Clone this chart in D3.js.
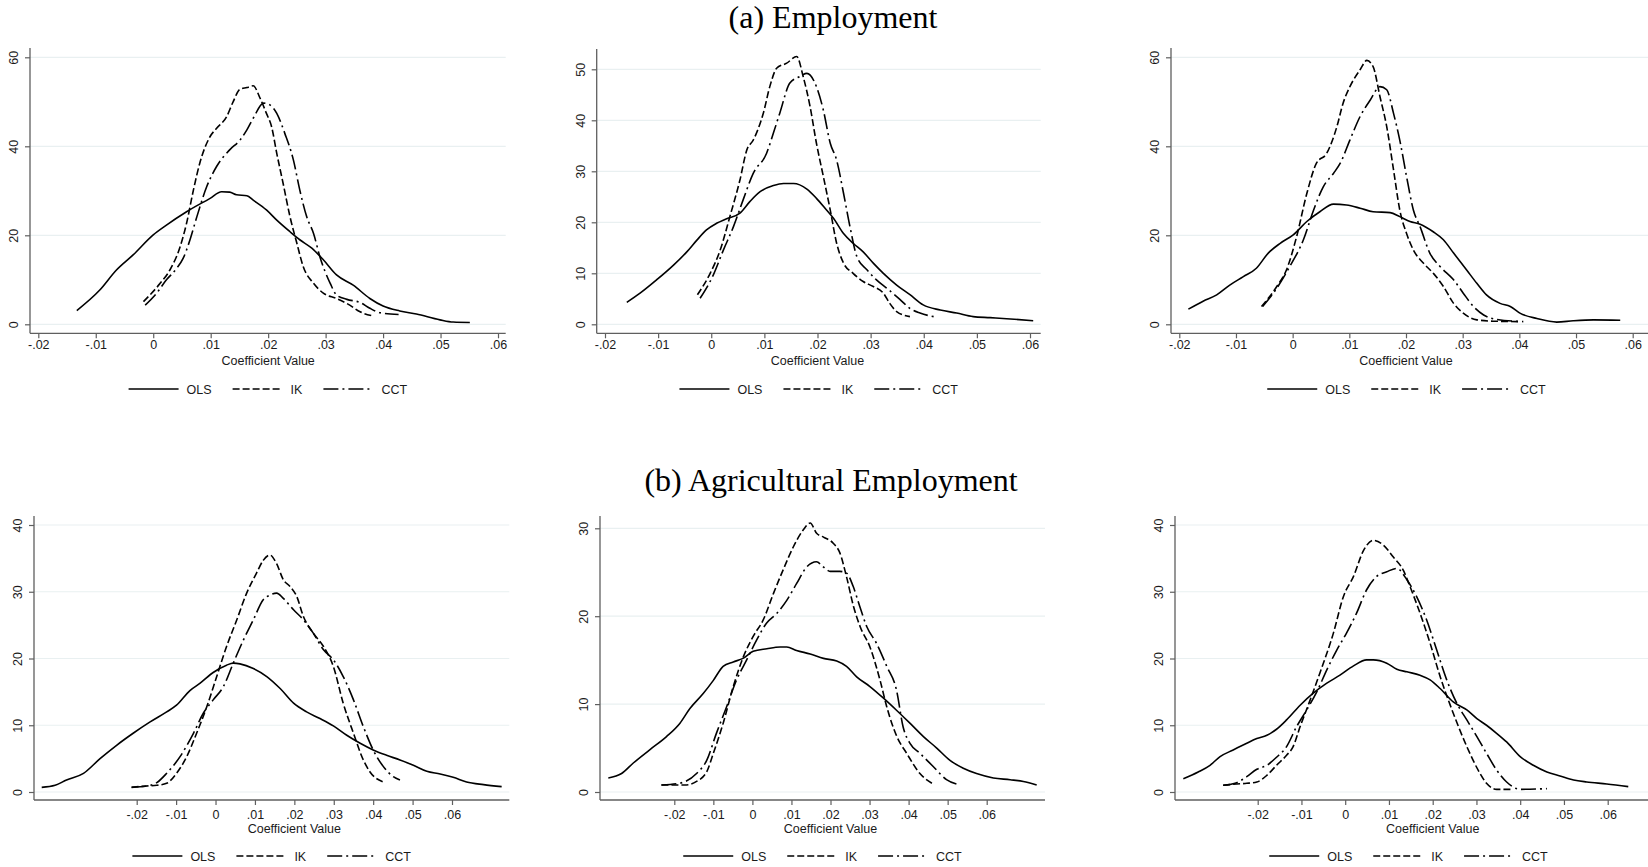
<!DOCTYPE html>
<html>
<head>
<meta charset="utf-8">
<script src="https://cdn.jsdelivr.net/npm/d3@7"></script>
<style>
  html, body { margin: 0; padding: 0; background: #fff; }
  svg { display: block; }
</style>
</head>
<body>
<svg id="fig" width="1648" height="867"></svg>
<script>
// ---- Kernel density estimates of the coefficient, [value, density] ----
// (a) Employment, three specifications
const emp1OLS = [[-0.0133,3.1],[-0.0093,7.7],[-0.0064,12.2],[-0.0035,15.6],[0.0,20.1],[0.0023,22.3],[0.0058,25.3],[0.0099,28.3],[0.0119,29.8],[0.0133,29.7],[0.0145,29.1],[0.0163,28.9],[0.0174,27.9],[0.0197,25.7],[0.0215,23.4],[0.0238,20.8],[0.0255,19.0],[0.0276,17.1],[0.0296,14.5],[0.0319,11.1],[0.0348,8.8],[0.0377,5.8],[0.0400,4.1],[0.0429,3.0],[0.0458,2.3],[0.0499,1.0],[0.0522,0.5],[0.0551,0.4]];
const emp1IK = [[-0.0017,5.1],[0.0012,9.2],[0.0029,12.2],[0.0047,17.5],[0.0058,22.7],[0.0070,30.2],[0.0081,36.2],[0.0099,42.2],[0.0110,44.0],[0.0128,46.7],[0.0139,50.0],[0.0151,52.8],[0.0163,53.2],[0.0174,53.6],[0.0186,50.8],[0.0197,47.4],[0.0206,44.4],[0.0215,38.4],[0.0226,31.7],[0.0238,24.2],[0.0250,18.2],[0.0261,13.0],[0.0279,9.2],[0.0296,7.0],[0.0319,5.8],[0.0342,4.3],[0.0360,2.8],[0.0383,1.9]];
const emp1CCT = [[-0.0014,4.3],[0.0006,7.0],[0.0023,10.0],[0.0041,12.6],[0.0052,14.8],[0.0064,19.0],[0.0076,24.2],[0.0093,30.9],[0.0110,35.4],[0.0133,39.2],[0.0151,41.4],[0.0163,43.7],[0.0174,46.3],[0.0192,49.7],[0.0203,49.3],[0.0215,47.4],[0.0229,42.9],[0.0244,36.9],[0.0255,30.2],[0.0267,24.2],[0.0279,20.4],[0.0290,15.2],[0.0308,9.2],[0.0319,6.6],[0.0337,5.6],[0.0360,4.9],[0.0377,3.6],[0.0395,2.6],[0.0427,2.2]];

const emp2OLS = [[-0.0159,4.3],[-0.0134,6.1],[-0.0103,8.7],[-0.0071,11.6],[-0.0046,14.2],[-0.0027,16.5],[-0.0009,18.5],[0.0010,19.8],[0.0029,20.7],[0.0054,21.8],[0.0073,24.1],[0.0092,26.0],[0.0117,27.2],[0.0136,27.6],[0.0155,27.6],[0.0180,26.5],[0.0198,24.7],[0.0217,22.4],[0.0230,20.8],[0.0249,17.8],[0.0267,15.9],[0.0286,14.2],[0.0305,12.0],[0.0324,10.0],[0.0349,7.7],[0.0374,5.8],[0.0399,3.8],[0.0431,2.8],[0.0462,2.2],[0.0493,1.5],[0.0525,1.3],[0.0556,1.1],[0.0606,0.7]];
const emp2IK = [[-0.0026,5.8],[-0.0002,10.0],[0.0017,14.6],[0.0035,21.1],[0.0054,28.3],[0.0067,34.2],[0.0079,36.1],[0.0098,41.4],[0.0111,46.9],[0.0123,50.2],[0.0142,51.2],[0.0161,52.5],[0.0173,48.6],[0.0186,42.7],[0.0198,35.5],[0.0211,29.0],[0.0224,22.4],[0.0236,15.9],[0.0249,12.0],[0.0267,10.0],[0.0286,8.4],[0.0305,7.4],[0.0324,6.1],[0.0336,4.1],[0.0349,2.5],[0.0374,1.5]];
const emp2CCT = [[-0.0021,5.1],[0.0004,9.7],[0.0023,14.6],[0.0042,19.2],[0.0060,24.4],[0.0079,29.6],[0.0104,33.5],[0.0117,37.5],[0.0129,41.4],[0.0148,47.3],[0.0167,48.6],[0.0180,49.2],[0.0198,46.6],[0.0211,42.0],[0.0224,35.5],[0.0236,32.2],[0.0249,25.7],[0.0261,19.2],[0.0274,13.3],[0.0293,10.7],[0.0311,8.7],[0.0330,7.1],[0.0355,4.9],[0.0374,3.1],[0.0393,2.2],[0.0424,1.4]];

const emp3OLS = [[-0.0184,3.4],[-0.0158,5.2],[-0.0134,6.6],[-0.0111,8.8],[-0.0087,10.7],[-0.0064,12.6],[-0.0043,16.0],[-0.0022,18.2],[0.0001,20.1],[0.0025,23.1],[0.0048,25.3],[0.0072,27.0],[0.0095,26.8],[0.0119,26.1],[0.0142,25.3],[0.0172,25.1],[0.0189,24.2],[0.0207,23.1],[0.0225,22.5],[0.0248,20.8],[0.0266,19.0],[0.0284,16.0],[0.0307,12.2],[0.0325,9.2],[0.0342,6.6],[0.0366,4.7],[0.0384,4.0],[0.0401,2.5],[0.0431,1.3],[0.0466,0.5],[0.0495,0.8],[0.0531,1.0],[0.0578,0.9]];
const emp3IK = [[-0.0055,4.0],[-0.0028,8.5],[-0.0011,12.2],[0.0007,19.7],[0.0025,29.4],[0.0042,36.2],[0.0060,38.4],[0.0078,44.4],[0.0089,49.7],[0.0101,53.4],[0.0119,57.2],[0.0131,59.3],[0.0142,57.9],[0.0154,51.2],[0.0166,44.4],[0.0178,34.7],[0.0189,25.7],[0.0201,20.4],[0.0213,16.7],[0.0231,13.7],[0.0248,11.5],[0.0266,8.5],[0.0284,4.7],[0.0301,2.5],[0.0325,1.0],[0.0354,0.7],[0.0401,0.6]];
const emp3CCT = [[-0.0053,4.0],[-0.0028,8.1],[-0.0005,13.0],[0.0019,19.0],[0.0037,25.7],[0.0054,30.9],[0.0072,33.9],[0.0084,36.2],[0.0101,41.4],[0.0119,46.7],[0.0137,50.4],[0.0154,53.4],[0.0166,52.7],[0.0178,47.4],[0.0189,41.4],[0.0201,33.2],[0.0213,25.7],[0.0225,21.9],[0.0242,16.0],[0.0260,13.0],[0.0284,10.0],[0.0301,7.0],[0.0319,4.0],[0.0337,2.1],[0.0360,1.1],[0.0407,0.6]];

// (b) Agricultural Employment, three specifications
const agr1OLS = [[-0.0441,0.7],[-0.0407,1.0],[-0.0378,1.8],[-0.0335,2.8],[-0.0293,5.0],[-0.0251,7.0],[-0.0209,8.8],[-0.0166,10.5],[-0.0124,12.0],[-0.0099,13.0],[-0.0065,15.2],[-0.0039,16.3],[-0.0006,17.9],[0.0028,19.0],[0.0045,19.3],[0.0062,19.2],[0.0096,18.5],[0.0130,17.3],[0.0164,15.5],[0.0198,13.3],[0.0231,12.0],[0.0265,11.0],[0.0299,9.9],[0.0333,8.5],[0.0367,7.3],[0.0400,6.3],[0.0434,5.5],[0.0468,4.8],[0.0502,4.0],[0.0536,3.1],[0.0570,2.7],[0.0603,2.2],[0.0637,1.5],[0.0680,1.1],[0.0726,0.8]];
const agr1IK = [[-0.0213,0.7],[-0.0175,0.9],[-0.0149,1.0],[-0.0124,1.3],[-0.0099,2.8],[-0.0073,5.3],[-0.0048,8.8],[-0.0022,12.8],[0.0003,17.3],[0.0028,21.8],[0.0054,25.8],[0.0079,29.8],[0.0104,32.8],[0.0121,34.7],[0.0138,35.5],[0.0155,34.2],[0.0172,31.8],[0.0189,30.8],[0.0206,29.3],[0.0223,26.3],[0.0248,23.8],[0.0274,21.8],[0.0299,18.8],[0.0324,13.3],[0.0350,8.8],[0.0375,4.8],[0.0392,3.0],[0.0426,1.5]];
const agr1CCT = [[-0.0213,0.7],[-0.0175,0.9],[-0.0149,1.4],[-0.0124,2.8],[-0.0090,5.3],[-0.0056,8.8],[-0.0031,11.8],[-0.0006,13.8],[0.0020,15.8],[0.0045,19.3],[0.0071,22.8],[0.0096,25.8],[0.0121,28.8],[0.0138,29.5],[0.0155,29.8],[0.0172,29.0],[0.0198,27.3],[0.0223,25.8],[0.0248,23.8],[0.0274,21.3],[0.0299,19.8],[0.0324,17.3],[0.0350,13.8],[0.0375,9.8],[0.0400,6.3],[0.0426,3.8],[0.0451,2.3],[0.0468,1.8]];

const agr2OLS = [[-0.0369,1.6],[-0.0335,2.1],[-0.0305,3.3],[-0.0263,4.8],[-0.0220,6.3],[-0.0186,7.8],[-0.0160,9.5],[-0.0126,11.2],[-0.0100,12.7],[-0.0075,14.3],[-0.0049,14.8],[-0.0024,15.2],[0.0002,16.0],[0.0037,16.3],[0.0071,16.5],[0.0088,16.5],[0.0113,16.1],[0.0148,15.7],[0.0182,15.2],[0.0216,14.9],[0.0241,14.3],[0.0267,13.1],[0.0301,12.0],[0.0335,10.7],[0.0369,9.3],[0.0404,7.8],[0.0438,6.3],[0.0472,5.0],[0.0506,3.6],[0.0540,2.7],[0.0574,2.1],[0.0617,1.6],[0.0660,1.4],[0.0694,1.2],[0.0728,0.8]];
const agr2IK = [[-0.0233,0.8],[-0.0203,0.8],[-0.0169,0.8],[-0.0143,1.2],[-0.0117,2.3],[-0.0100,4.4],[-0.0075,7.8],[-0.0049,12.0],[-0.0023,15.4],[0.0002,17.7],[0.0028,19.6],[0.0054,22.6],[0.0079,25.3],[0.0105,27.9],[0.0130,29.8],[0.0148,30.6],[0.0165,29.4],[0.0182,29.0],[0.0207,28.3],[0.0224,27.2],[0.0241,24.5],[0.0259,21.1],[0.0276,18.8],[0.0301,16.5],[0.0327,12.7],[0.0344,9.7],[0.0370,6.3],[0.0395,4.4],[0.0429,2.1],[0.0463,0.9]];
const agr2CCT = [[-0.0233,0.8],[-0.0186,1.0],[-0.0143,2.1],[-0.0117,3.6],[-0.0092,6.7],[-0.0066,9.7],[-0.0041,12.7],[-0.0015,15.0],[0.0011,17.3],[0.0036,19.2],[0.0062,20.3],[0.0088,21.8],[0.0113,23.7],[0.0139,25.6],[0.0164,26.2],[0.0182,25.6],[0.0199,25.1],[0.0224,25.1],[0.0241,24.9],[0.0258,23.4],[0.0275,21.1],[0.0293,18.8],[0.0318,16.9],[0.0344,14.3],[0.0369,11.6],[0.0386,7.4],[0.0404,5.5],[0.0429,4.4],[0.0463,2.9],[0.0497,1.4],[0.0532,0.8]];

const agr3OLS = [[-0.0370,2.0],[-0.0336,3.0],[-0.0309,4.0],[-0.0286,5.3],[-0.0256,6.3],[-0.0225,7.3],[-0.0202,8.0],[-0.0179,8.5],[-0.0157,9.4],[-0.0134,10.8],[-0.0103,13.0],[-0.0073,14.8],[-0.0042,16.3],[-0.0012,17.5],[0.0019,18.9],[0.0049,19.8],[0.0064,19.8],[0.0095,19.3],[0.0118,18.4],[0.0141,18.0],[0.0171,17.5],[0.0194,16.8],[0.0217,15.5],[0.0247,13.5],[0.0278,12.3],[0.0301,11.0],[0.0323,10.0],[0.0346,8.8],[0.0369,7.5],[0.0400,5.3],[0.0430,4.0],[0.0461,3.0],[0.0491,2.4],[0.0522,1.8],[0.0552,1.5],[0.0598,1.2],[0.0647,0.8]];
const agr3IK = [[-0.0279,1.0],[-0.0248,1.2],[-0.0225,1.3],[-0.0202,1.5],[-0.0179,2.5],[-0.0157,4.0],[-0.0134,5.5],[-0.0119,6.8],[-0.0103,9.8],[-0.0080,13.8],[-0.0058,17.8],[-0.0027,23.8],[-0.0004,29.3],[0.0019,32.3],[0.0042,36.2],[0.0064,37.7],[0.0087,37.0],[0.0110,35.2],[0.0133,33.2],[0.0148,30.8],[0.0171,26.8],[0.0194,22.3],[0.0217,17.3],[0.0247,11.8],[0.0278,6.8],[0.0308,2.8],[0.0323,1.3],[0.0346,0.4],[0.0384,0.4]];
const agr3CCT = [[-0.0279,1.0],[-0.0248,1.4],[-0.0225,2.3],[-0.0202,3.4],[-0.0179,4.0],[-0.0157,5.2],[-0.0134,6.8],[-0.0111,9.8],[-0.0088,12.3],[-0.0065,15.0],[-0.0042,18.3],[-0.0019,21.3],[0.0003,23.8],[0.0026,26.8],[0.0049,30.3],[0.0072,32.3],[0.0095,33.0],[0.0118,33.5],[0.0141,31.8],[0.0163,29.3],[0.0186,25.8],[0.0209,21.3],[0.0232,16.8],[0.0255,13.3],[0.0278,10.8],[0.0301,8.3],[0.0323,5.8],[0.0346,3.3],[0.0369,1.5],[0.0400,0.4],[0.0461,0.5]];

// ---- Axis ticks and labels ----
const xTickValues = [-0.02, -0.01, 0, 0.01, 0.02, 0.03, 0.04, 0.05, 0.06];
const yTicksEmp1 = [0, 20, 40, 60];
const yTicksEmp2 = [0, 10, 20, 30, 40, 50];
const yTicksEmp3 = [0, 20, 40, 60];
const yTicksAgr1 = [0, 10, 20, 30, 40];
const yTicksAgr2 = [0, 10, 20, 30];
const yTicksAgr3 = [0, 10, 20, 30, 40];
const seriesNames = ["OLS", "IK", "CCT"];
const panelTitles = ["(a) Employment", "(b) Agricultural Employment"];
const xAxisTitle = "Coefficient Value";

// ---- Layout (pixels) ----
const topRow = { tickLabelY: 349.5, axisTitleY: 365, legendY: 389 };
const botRow = { tickLabelY: 818.5, axisTitleY: 832.5, legendY: 856 };

const panels = [
  { series: [emp1OLS, emp1IK, emp1CCT], yTicks: yTicksEmp1, row: topRow,
    box: { l: 30, r: 505.7, t: 48, b: 333.3 }, xPix: [38.3, 498], yPix: [324.3, 57.3] },
  { series: [emp2OLS, emp2IK, emp2CCT], yTicks: yTicksEmp2, row: topRow,
    box: { l: 596.7, r: 1040.7, t: 49, b: 333.3 }, xPix: [605, 1030], yPix: [324.3, 69.3] },
  { series: [emp3OLS, emp3IK, emp3CCT], yTicks: yTicksEmp3, row: topRow,
    box: { l: 1171, r: 1648, t: 48, b: 333.3 }, xPix: [1179.3, 1632.7], yPix: [324.3, 57.3] },
  { series: [agr1OLS, agr1IK, agr1CCT], yTicks: yTicksAgr1, row: botRow,
    box: { l: 34, r: 509.3, t: 516, b: 800 }, xPix: [136.7, 452], yPix: [792, 525] },
  { series: [agr2OLS, agr2IK, agr2CCT], yTicks: yTicksAgr2, row: botRow,
    box: { l: 600, r: 1045, t: 516, b: 800 }, xPix: [674.3, 986.7], yPix: [792, 528.3] },
  { series: [agr3OLS, agr3IK, agr3CCT], yTicks: yTicksAgr3, row: botRow,
    box: { l: 1175, r: 1648, t: 516, b: 800 }, xPix: [1257.7, 1607.7], yPix: [792, 525] }
];

const lineStyles = [
  { dash: null },            // OLS: solid
  { dash: "7,3" },           // IK: dashed
  { dash: "15,4,2,4" }       // CCT: long dash - dot
];

const SANS = "'Liberation Sans', Arial, Helvetica, sans-serif";
const SERIF = "'Liberation Serif', 'Times New Roman', Times, serif";
const AXIS_COLOR = "#5f5f5f";
const GRID_COLOR = "#e9f0f1";
const CURVE_W = 1.6;

// Stata-style numbers without the leading zero: ".01", "-.02", "0"
const fmtX = v => {
  if (v === 0) return "0";
  return (v < 0 ? "-" : "") + Math.abs(v).toFixed(2).replace(/^0/, "");
};

const svg = d3.select("#fig");
svg.append("rect").attr("width", 1648).attr("height", 867).attr("fill", "#fff");

// Row titles
svg.append("text").attr("x", 833).attr("y", 28).attr("text-anchor", "middle")
  .attr("font-family", SERIF).attr("font-size", 32).attr("fill", "#000").text(panelTitles[0]);
svg.append("text").attr("x", 831).attr("y", 491).attr("text-anchor", "middle")
  .attr("font-family", SERIF).attr("font-size", 32).attr("fill", "#000").text(panelTitles[1]);

panels.forEach(p => {
  const g = svg.append("g");
  const x = d3.scaleLinear().domain([xTickValues[0], xTickValues[xTickValues.length - 1]]).range(p.xPix);
  const yMax = p.yTicks[p.yTicks.length - 1];
  const y = d3.scaleLinear().domain([0, yMax]).range(p.yPix);

  // horizontal grid
  g.selectAll("line.grid").data(p.yTicks).join("line")
    .attr("x1", p.box.l).attr("x2", p.box.r)
    .attr("y1", d => y(d)).attr("y2", d => y(d))
    .attr("stroke", GRID_COLOR).attr("stroke-width", 1.2);

  // y axis
  const yAxis = d3.axisLeft(y).tickValues(p.yTicks).tickSize(5).tickSizeOuter(0).tickFormat(d3.format("d"));
  const ya = g.append("g").attr("transform", `translate(${p.box.l},0)`).call(yAxis);
  ya.select(".domain").remove();
  ya.selectAll(".tick line").attr("stroke", AXIS_COLOR).attr("stroke-width", 1.2);
  ya.selectAll(".tick text")
    .attr("font-family", SANS).attr("font-size", 12.5).attr("fill", "#1a1a1a")
    .attr("x", null).attr("dy", null)
    .attr("text-anchor", "middle")
    .attr("transform", "translate(-12,0) rotate(-90)");
  g.append("line").attr("x1", p.box.l).attr("x2", p.box.l).attr("y1", p.box.t).attr("y2", p.box.b)
    .attr("stroke", AXIS_COLOR).attr("stroke-width", 1.3);

  // x axis
  const xAxis = d3.axisBottom(x).tickValues(xTickValues).tickSize(5).tickSizeOuter(0).tickFormat(fmtX);
  const xa = g.append("g").attr("transform", `translate(0,${p.box.b})`).call(xAxis);
  xa.select(".domain").remove();
  xa.selectAll(".tick line").attr("stroke", AXIS_COLOR).attr("stroke-width", 1.2);
  xa.selectAll(".tick text")
    .attr("font-family", SANS).attr("font-size", 12.5).attr("fill", "#1a1a1a")
    .attr("dy", null).attr("y", p.row.tickLabelY - p.box.b);
  g.append("line").attr("x1", p.box.l).attr("x2", p.box.r).attr("y1", p.box.b).attr("y2", p.box.b)
    .attr("stroke", AXIS_COLOR).attr("stroke-width", 1.3);

  g.append("text").attr("x", (x(xTickValues[0]) + x(xTickValues[xTickValues.length - 1])) / 2)
    .attr("y", p.row.axisTitleY).attr("text-anchor", "middle")
    .attr("font-family", SANS).attr("font-size", 12.5).attr("fill", "#1a1a1a").text(xAxisTitle);

  // density curves
  const line = d3.line().x(d => x(d[0])).y(d => y(d[1])).curve(d3.curveMonotoneX);
  p.series.forEach((s, i) => {
    g.append("path").datum(s).attr("d", line)
      .attr("fill", "none").attr("stroke", "#000").attr("stroke-width", CURVE_W)
      .attr("stroke-linejoin", "round")
      .attr("stroke-dasharray", lineStyles[i].dash);
  });

  // legend
  const leg = g.append("g");
  let cx = 0;
  seriesNames.forEach((name, i) => {
    leg.append("line").attr("x1", cx).attr("x2", cx + 50).attr("y1", 0).attr("y2", 0)
      .attr("stroke", "#000").attr("stroke-width", CURVE_W)
      .attr("stroke-dasharray", lineStyles[i].dash);
    const t = leg.append("text").attr("x", cx + 58).attr("y", 4.5)
      .attr("font-family", SANS).attr("font-size", 12.5).attr("fill", "#1a1a1a").text(name);
    cx += 58 + t.node().getComputedTextLength() + 21;
  });
  const legW = cx - 21;
  const centre = (p.box.l + Math.min(p.box.r, 1642)) / 2;
  leg.attr("transform", `translate(${centre - legW / 2},${p.row.legendY})`);
});
</script>
</body>
</html>
